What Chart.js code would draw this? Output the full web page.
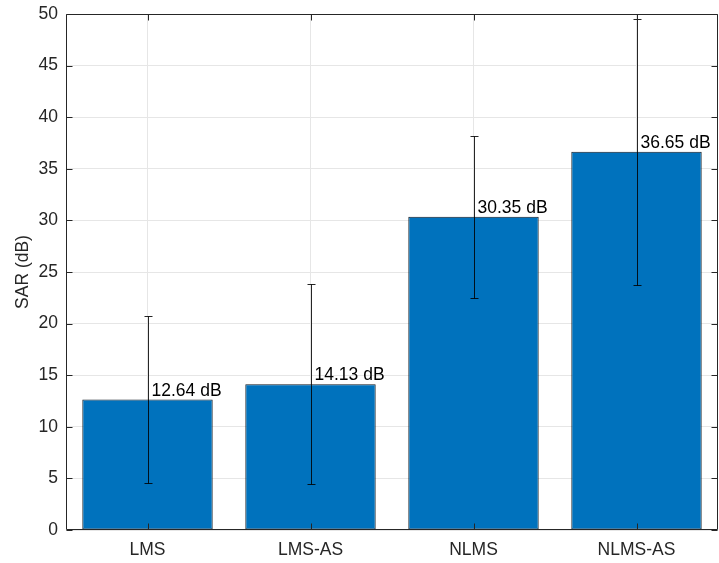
<!DOCTYPE html>
<html><head><meta charset="utf-8">
<script src="https://cdn.jsdelivr.net/npm/chart.js@4/dist/chart.umd.min.js"></script>
<style>html,body{margin:0;padding:0;background:#fff}#wrap{width:719px;height:563px}</style>
</head><body><div id="wrap"><canvas id="c" width="719" height="563"></canvas></div>
<script>
const categories = ['LMS', 'LMS-AS', 'NLMS', 'NLMS-AS'];
const sarValues = [12.64, 14.13, 30.35, 36.65];
const errLow = [4.55, 4.43, 22.5, 23.75];
const errHigh = [20.75, 23.83, 38.2, 49.55];
const valueLabels = ['12.64 dB', '14.13 dB', '30.35 dB', '36.65 dB'];

const FONT = '"Liberation Sans", Arial, Helvetica, sans-serif';
const AX = '#262626';

const extras = {
  id: 'extras',
  afterDatasetsDraw(chart) {
    const ctx = chart.ctx, x = chart.scales.x, y = chart.scales.y;
    const a = chart.chartArea;
    ctx.save();
    // error bars
    ctx.strokeStyle = 'rgba(0,0,0,0.85)';
    ctx.lineWidth = 1;
    categories.forEach((c, i) => {
      const px = Math.round(x.getPixelForValue(i)) + 0.5;
      const yl = Math.round(y.getPixelForValue(errLow[i])) + 0.5;
      const yh = Math.round(y.getPixelForValue(errHigh[i])) + 0.5;
      ctx.beginPath();
      ctx.moveTo(px, yl); ctx.lineTo(px, yh);
      ctx.moveTo(px - 4, yl); ctx.lineTo(px + 4, yl);
      ctx.moveTo(px - 4, yh); ctx.lineTo(px + 4, yh);
      ctx.stroke();
    });
    // value labels
    ctx.fillStyle = '#000';
    ctx.font = '17.5px ' + FONT;
    ctx.textAlign = 'left';
    ctx.textBaseline = 'alphabetic';
    categories.forEach((c, i) => {
      const px = x.getPixelForValue(i);
      const py = y.getPixelForValue(sarValues[i]);
      ctx.fillText(valueLabels[i], px + 4, py - 4);
    });
    // box and inward ticks
    ctx.strokeStyle = AX;
    ctx.lineWidth = 1;
    const L = Math.round(a.left) + 0.5, R = Math.round(a.right) - 0.5;
    const T = Math.round(a.top) + 0.5, B = Math.round(a.bottom) - 0.5;
    ctx.beginPath();
    ctx.moveTo(L, B); ctx.lineTo(L, T); ctx.lineTo(R, T); ctx.lineTo(R, B); ctx.lineTo(L, B);
    y.ticks.forEach(t => {
      const py = Math.round(y.getPixelForValue(t.value)) + 0.5;
      ctx.moveTo(L, py); ctx.lineTo(L + 6, py);
      ctx.moveTo(R, py); ctx.lineTo(R - 6, py);
    });
    categories.forEach((c, i) => {
      const px = Math.round(x.getPixelForValue(i)) + 0.5;
      ctx.moveTo(px, B); ctx.lineTo(px, B - 6);
      ctx.moveTo(px, T); ctx.lineTo(px, T + 6);
    });
    ctx.stroke();
    ctx.restore();
  }
};

new Chart(document.getElementById('c'), {
  type: 'bar',
  data: {
    labels: categories,
    datasets: [{
      data: sarValues,
      backgroundColor: '#0072BD',
      borderColor: '#101820',
      borderWidth: 1,
      borderSkipped: false,
      barPercentage: 0.8,
      categoryPercentage: 1.0
    }]
  },
  options: {
    responsive: false,
    animation: false,
    devicePixelRatio: 1,
    layout: { padding: { top: 14, right: 1, left: 0, bottom: 0 } },
    plugins: { legend: { display: false }, tooltip: { enabled: false } },
    scales: {
      x: {
        grid: { color: '#e6e6e6', drawTicks: false, offset: false },
        border: { display: false },
        ticks: { color: AX, padding: 10, font: { family: FONT, size: 17.5 } },
        afterFit(s) { s.height = 33; s.paddingLeft = 0; s.paddingRight = 0; }
      },
      y: {
        min: 0, max: 50,
        grid: { color: '#e6e6e6', drawTicks: false },
        border: { display: false },
        ticks: { stepSize: 5, color: AX, padding: 8, font: { family: FONT, size: 17.5 } },
        title: { display: true, text: 'SAR (dB)', color: AX, padding: { top: 13, bottom: 0 }, font: { family: FONT, size: 17.5 } },
        afterFit(s) { s.width = 66; s.paddingTop = 0; s.paddingBottom = 0; }
      }
    }
  },
  plugins: [extras]
});
</script>
</body></html>
